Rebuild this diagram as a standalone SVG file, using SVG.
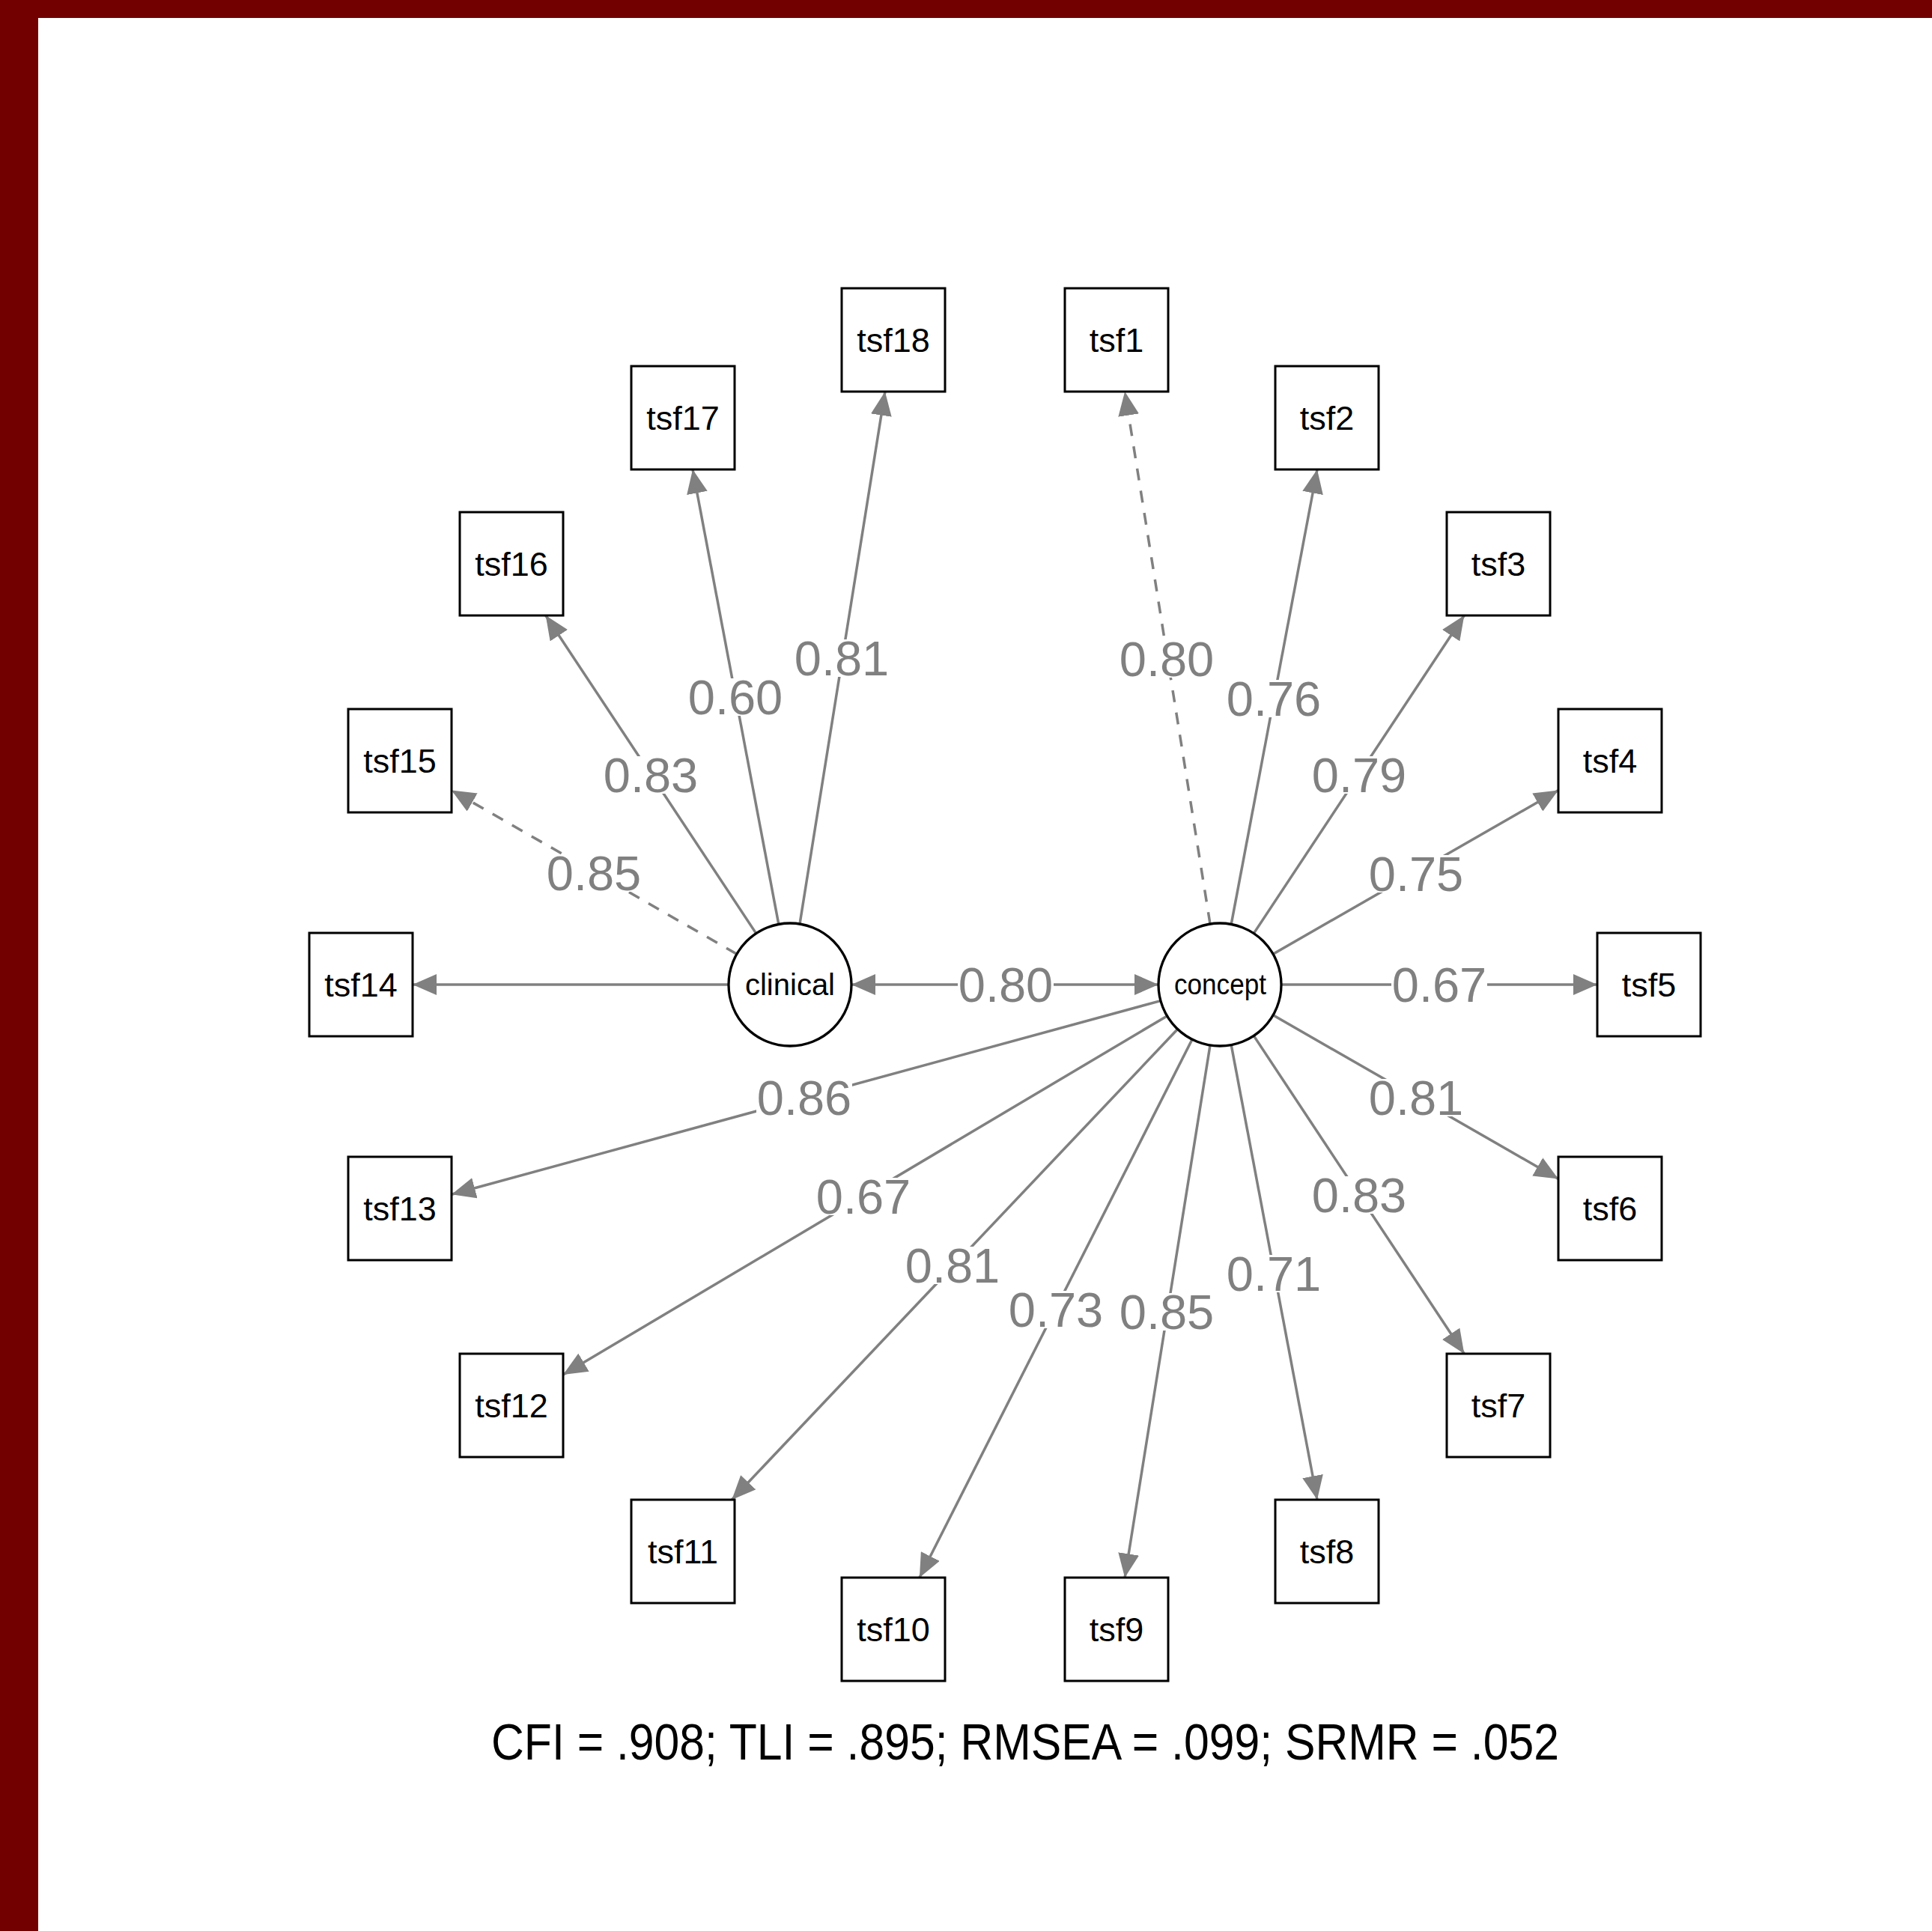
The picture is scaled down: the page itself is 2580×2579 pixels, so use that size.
<svg xmlns="http://www.w3.org/2000/svg" width="2580" height="2579" viewBox="0 0 2580 2579">
<style>
.box{fill:#fff;stroke:#000;stroke-width:3}
.lat{fill:#fff;stroke:#000;stroke-width:3.3}
.ntxt{font-family:"Liberation Sans",Arial,sans-serif;font-size:45px;fill:#000;text-anchor:middle}
.edge{stroke:#808080;stroke-width:3.5;fill:none;marker-end:url(#arr)}
.dash{stroke-dasharray:16 14}
.lbg{fill:#fff}
.ltxt{font-family:"Liberation Sans",Arial,sans-serif;font-size:65px;fill:#808080;text-anchor:middle}
</style>
<defs>
<marker id="arr" markerUnits="userSpaceOnUse" markerWidth="32" markerHeight="28" viewBox="0 0 32 28" refX="32" refY="14" orient="auto-start-reverse">
<path d="M0,0 L32,14 L0,28 Z" fill="#808080"/>
</marker>
</defs>
<rect x="0" y="0" width="2580" height="2579" fill="#fff"/>
<rect x="0" y="0" width="2580" height="24" fill="#730000"/>
<rect x="0" y="0" width="51" height="2579" fill="#730000"/>

<g id="connectors">
<line class="edge" x1="1137" y1="1315" x2="1547" y2="1315" style="marker-start:url(#arr)"/>
<line class="edge dash" x1="1616" y1="1234" x2="1502.1" y2="523"/>
<line class="edge" x1="1644.2" y1="1234.4" x2="1759" y2="627"/>
<line class="edge" x1="1674.3" y1="1246.6" x2="1955.3" y2="822"/>
<line class="edge" x1="1700.1" y1="1274.2" x2="2081" y2="1055.6"/>
<line class="edge" x1="1711" y1="1315" x2="2133" y2="1315"/>
<line class="edge" x1="1700.1" y1="1355.8" x2="2081" y2="1574.4"/>
<line class="edge" x1="1674.3" y1="1383.4" x2="1955.3" y2="1808"/>
<line class="edge" x1="1644.2" y1="1395.6" x2="1759" y2="2003"/>
<line class="edge" x1="1616" y1="1396" x2="1502.1" y2="2107"/>
<line class="edge" x1="1592" y1="1388.2" x2="1227.9" y2="2107"/>
<line class="edge" x1="1572.6" y1="1374.5" x2="977.3" y2="2003"/>
<line class="edge" x1="1558.5" y1="1356.9" x2="752" y2="1836"/>
<line class="edge" x1="1549.9" y1="1336.6" x2="603" y2="1595.2"/>
<line class="edge" x1="973" y1="1315" x2="551" y2="1315"/>
<line class="edge dash" x1="983.9" y1="1274.2" x2="603" y2="1055.6"/>
<line class="edge" x1="1009.7" y1="1246.6" x2="728.7" y2="822"/>
<line class="edge" x1="1039.8" y1="1234.4" x2="925" y2="627"/>
<line class="edge" x1="1068" y1="1234" x2="1181.9" y2="523"/>

<g id="edge-labels">
<rect class="lbg" x="1279" y="1290" width="128" height="50"/><text class="ltxt" x="1343" y="1338">0.80</text>
<rect class="lbg" x="1494" y="855" width="128" height="50"/><text class="ltxt" x="1558" y="903">0.80</text>
<rect class="lbg" x="1637" y="908" width="128" height="50"/><text class="ltxt" x="1701" y="956">0.76</text>
<rect class="lbg" x="1751" y="1010" width="128" height="50"/><text class="ltxt" x="1815" y="1058">0.79</text>
<rect class="lbg" x="1827" y="1142" width="128" height="50"/><text class="ltxt" x="1891" y="1190">0.75</text>
<rect class="lbg" x="1858" y="1290" width="128" height="50"/><text class="ltxt" x="1922" y="1338">0.67</text>
<rect class="lbg" x="1827" y="1441" width="128" height="50"/><text class="ltxt" x="1891" y="1489">0.81</text>
<rect class="lbg" x="1751" y="1571" width="128" height="50"/><text class="ltxt" x="1815" y="1619">0.83</text>
<rect class="lbg" x="1637" y="1676" width="128" height="50"/><text class="ltxt" x="1701" y="1724">0.71</text>
<rect class="lbg" x="1494" y="1727" width="128" height="50"/><text class="ltxt" x="1558" y="1775">0.85</text>
<rect class="lbg" x="1346" y="1724" width="128" height="50"/><text class="ltxt" x="1410" y="1772">0.73</text>
<rect class="lbg" x="1208" y="1665" width="128" height="50"/><text class="ltxt" x="1272" y="1713">0.81</text>
<rect class="lbg" x="1089" y="1573" width="128" height="50"/><text class="ltxt" x="1153" y="1621">0.67</text>
<rect class="lbg" x="1010" y="1441" width="128" height="50"/><text class="ltxt" x="1074" y="1489">0.86</text>
<rect class="lbg" x="729" y="1141" width="128" height="50"/><text class="ltxt" x="793" y="1189">0.85</text>
<rect class="lbg" x="805" y="1010" width="128" height="50"/><text class="ltxt" x="869" y="1058">0.83</text>
<rect class="lbg" x="918" y="906" width="128" height="50"/><text class="ltxt" x="982" y="954">0.60</text>
<rect class="lbg" x="1060" y="854" width="128" height="50"/><text class="ltxt" x="1124" y="902">0.81</text>
</g>
</g>

<g id="clinical"><circle class="lat" cx="1055" cy="1315" r="82"/><text x="1055" y="1329" style="font-family:'Liberation Sans',Arial,sans-serif;font-size:40px;text-anchor:middle">clinical</text></g>
<g id="concept"><circle class="lat" cx="1629" cy="1315" r="82"/><text x="1568" y="1328" textLength="123" lengthAdjust="spacingAndGlyphs" style="font-family:'Liberation Sans',Arial,sans-serif;font-size:39px">concept</text></g>

<g id="tsf1"><rect class="box" x="1422" y="385" width="138" height="138"/><text class="ntxt" x="1491" y="470">tsf1</text></g>
<g id="tsf2"><rect class="box" x="1703" y="489" width="138" height="138"/><text class="ntxt" x="1772" y="574">tsf2</text></g>
<g id="tsf3"><rect class="box" x="1932" y="684" width="138" height="138"/><text class="ntxt" x="2001" y="769">tsf3</text></g>
<g id="tsf4"><rect class="box" x="2081" y="947" width="138" height="138"/><text class="ntxt" x="2150" y="1032">tsf4</text></g>
<g id="tsf5"><rect class="box" x="2133" y="1246" width="138" height="138"/><text class="ntxt" x="2202" y="1331">tsf5</text></g>
<g id="tsf6"><rect class="box" x="2081" y="1545" width="138" height="138"/><text class="ntxt" x="2150" y="1630">tsf6</text></g>
<g id="tsf7"><rect class="box" x="1932" y="1808" width="138" height="138"/><text class="ntxt" x="2001" y="1893">tsf7</text></g>
<g id="tsf8"><rect class="box" x="1703" y="2003" width="138" height="138"/><text class="ntxt" x="1772" y="2088">tsf8</text></g>
<g id="tsf9"><rect class="box" x="1422" y="2107" width="138" height="138"/><text class="ntxt" x="1491" y="2192">tsf9</text></g>
<g id="tsf10"><rect class="box" x="1124" y="2107" width="138" height="138"/><text class="ntxt" x="1193" y="2192">tsf10</text></g>
<g id="tsf11"><rect class="box" x="843" y="2003" width="138" height="138"/><text class="ntxt" x="912" y="2088">tsf11</text></g>
<g id="tsf12"><rect class="box" x="614" y="1808" width="138" height="138"/><text class="ntxt" x="683" y="1893">tsf12</text></g>
<g id="tsf13"><rect class="box" x="465" y="1545" width="138" height="138"/><text class="ntxt" x="534" y="1630">tsf13</text></g>
<g id="tsf14"><rect class="box" x="413" y="1246" width="138" height="138"/><text class="ntxt" x="482" y="1331">tsf14</text></g>
<g id="tsf15"><rect class="box" x="465" y="947" width="138" height="138"/><text class="ntxt" x="534" y="1032">tsf15</text></g>
<g id="tsf16"><rect class="box" x="614" y="684" width="138" height="138"/><text class="ntxt" x="683" y="769">tsf16</text></g>
<g id="tsf17"><rect class="box" x="843" y="489" width="138" height="138"/><text class="ntxt" x="912" y="574">tsf17</text></g>
<g id="tsf18"><rect class="box" x="1124" y="385" width="138" height="138"/><text class="ntxt" x="1193" y="470">tsf18</text></g>

<text x="656" y="2350" textLength="1426" lengthAdjust="spacingAndGlyphs" style="font-family:'Liberation Sans',Arial,sans-serif;font-size:68px;fill:#000">CFI = .908; TLI = .895; RMSEA = .099; SRMR = .052</text>
</svg>
